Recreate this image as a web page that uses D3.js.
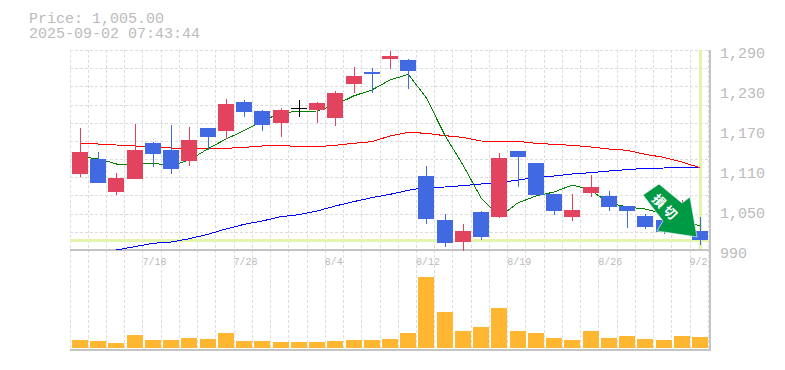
<!DOCTYPE html>
<html>
<head>
<meta charset="utf-8">
<script src="https://cdn.jsdelivr.net/npm/d3@7"></script>
<style>
    html, body { margin: 0; padding: 0; background: #fff; }
    svg { display: block; }
    text { font-family: "Liberation Mono", monospace; fill: #bbb; }
</style>
</head>
<body>
<div id="chart"></div>
<script>
const dates = ["7/14","7/15","7/16","7/17","7/18","7/22","7/23","7/24","7/25","7/28","7/29","7/30","7/31","8/1","8/4","8/5","8/6","8/7","8/8","8/12","8/13","8/14","8/15","8/18","8/19","8/20","8/21","8/22","8/25","8/26","8/27","8/28","8/29","9/1","9/2"];
const dateLabels = ["7/18","7/28","8/4","8/12","8/19","8/26","9/2"];
const priceTicks = [990,1050,1110,1170,1230,1290];

const opens  = [1104,1126.5,1077,1096.5,1150.5,1140,1123.5,1173,1168.5,1212,1198.5,1180.5,1203,1200,1188,1239,1257,1276.5,1275,1101,1035,1002,1047,1039.5,1138.5,1120.5,1074,1039.5,1075.5,1071,1056,1041,1035,1032,1018.5];
const closes = [1137,1090.5,1098,1140,1134,1111.5,1155,1159.5,1209,1197,1177.5,1200,1203,1210.5,1225.5,1251,1254,1281,1258.5,1036.5,1000.5,1018.5,1009.5,1128,1129.5,1072.5,1048.5,1050,1084.5,1054.5,1048.5,1024.5,1017,1047,1005];
const highs  = [1173,1137,1105.5,1179,1152,1177.5,1174.5,1173,1216.5,1215,1200,1203,1215,1212,1228.5,1264.5,1263,1288.5,1276.5,1116,1044,1029,1048.5,1135.5,1138.5,1120.5,1074,1074,1102.5,1078.5,1056,1044,1050,1065,1039.5];
const lows   = [1099.5,1090.5,1072.5,1096.5,1114.5,1104,1116,1140,1156.5,1189.5,1168.5,1159.5,1189.5,1180.5,1176,1225.5,1225.5,1261.5,1231.5,1029,994.5,988.5,1005,1038,1084.5,1072.5,1042.5,1033.5,1069.5,1048.5,1023,1021.5,1014,1026,997.5];

const ma5  = [1129.5,1127,1119,1119,1120.5,1116,1125,1141.5,1156.5,1169,1183.5,1195.5,1198,1198.5,1207.5,1221,1230,1245,1253.5,1218,1162.5,1117.5,1068,1039.5,1060.5,1071,1077,1087.5,1080,1060.5,1054.5,1051.5,1044,1035,1026];
const ma25 = [1150,1149,1147.5,1146,1145,1143,1142,1142,1142.5,1144,1146,1147,1145,1145,1147,1150,1152.5,1161,1166.5,1165,1161.5,1159,1153.5,1153,1153,1150,1148.5,1147,1144.5,1141.5,1139.5,1133.5,1129,1122,1113.5];
const ma75 = [null,null,990,995,1000,1002,1007,1013.5,1021.5,1028.5,1033.5,1040,1043,1048.5,1056,1062.5,1068.5,1073.5,1079.5,1084,1084.5,1086.5,1089,1091,1095,1098.5,1101,1104,1106,1108.5,1110.5,1112.5,1113,1114,1114];

const volumes = [800,700,500,1300,800,800,1000,900,1500,700,700,600,600,600,700,800,800,900,1500,7100,3600,1700,2100,4000,1700,1500,1000,800,1700,1000,1200,900,800,1200,1100];

const lastPrice = 1005;
const titleLines = ["Price: 1,005.00", "2025-09-02 07:43:44"];

const svg = d3.select("#chart").append("svg").attr("width", 785).attr("height", 370);

// Scales
const x = d3.scalePoint().domain(d3.range(dates.length)).range([80, 700]);
const y = d3.scaleLinear().domain([990, 1290]).range([250, 50]);
const yVol = d3.scaleLinear().domain([0, 7100]).range([348, 277]);
const px = v => Math.round(v);

// Grid
const grid = svg.append("g")
    .attr("stroke", "#ddd")
    .attr("stroke-dasharray", "3,2")
    .attr("shape-rendering", "crispEdges");
grid.selectAll(".h")
    .data(d3.range(11))
    .join("line")
    .attr("class", "h")
    .attr("x1", 70).attr("x2", 710)
    .attr("y1", d => px(y(1290 - d * 300 / 11)) + 0.5)
    .attr("y2", d => px(y(1290 - d * 300 / 11)) + 0.5);
grid.selectAll(".v")
    .data(d3.range(dates.length + 1))
    .join("line")
    .attr("class", "v")
    .attr("y1", 50).attr("y2", 350)
    .attr("x1", d => Math.floor(x(0) + d * x.step() - 10) + 0.5)
    .attr("x2", d => Math.floor(x(0) + d * x.step() - 10) + 0.5);

// Panel borders
const border = svg.append("g")
    .attr("stroke", "#c4c4c4")
    .attr("stroke-width", 2)
    .attr("shape-rendering", "crispEdges");
border.append("line").attr("x1", 70).attr("x2", 711).attr("y1", 250).attr("y2", 250);
border.append("line").attr("x1", 70).attr("x2", 711).attr("y1", 350).attr("y2", 350);
border.append("line").attr("x1", 710).attr("x2", 710).attr("y1", 50).attr("y2", 351);

// Current price lines
svg.append("line")
    .attr("x1", 70).attr("x2", 709)
    .attr("y1", y(lastPrice) + 0.5).attr("y2", y(lastPrice) + 0.5)
    .attr("stroke", "#e3f5ac").attr("stroke-width", 3)
    .attr("shape-rendering", "crispEdges");
svg.append("line")
    .attr("x1", px(x(dates.length - 1)) + 0.5).attr("x2", px(x(dates.length - 1)) + 0.5)
    .attr("y1", 50).attr("y2", 249)
    .attr("stroke", "#e3f5ac").attr("stroke-width", 3)
    .attr("shape-rendering", "crispEdges");

// Moving averages
const line = d3.line()
    .defined(d => d !== null)
    .x((d, i) => x(i))
    .y(d => y(d));
[[ma75, "#0000ff"], [ma25, "#ff0000"], [ma5, "#008000"]].forEach(([series, color]) => {
    svg.append("path")
        .attr("d", line(series))
        .attr("fill", "none")
        .attr("stroke", color)
        .attr("stroke-width", 1)
        .attr("shape-rendering", "crispEdges");
});

// Candles
const candleColor = i => closes[i] > opens[i] ? "#e2435f" : closes[i] < opens[i] ? "#4169e1" : "#000";
const candles = svg.append("g")
    .selectAll("g")
    .data(dates)
    .join("g")
    .attr("shape-rendering", "crispEdges");
candles.append("line")
    .attr("x1", (d, i) => px(x(i)) + 0.5)
    .attr("x2", (d, i) => px(x(i)) + 0.5)
    .attr("y1", (d, i) => px(y(highs[i])))
    .attr("y2", (d, i) => px(y(lows[i])))
    .attr("stroke", (d, i) => candleColor(i));
candles.append("rect")
    .attr("x", (d, i) => px(x(i)) - 8)
    .attr("width", 16)
    .attr("y", (d, i) => px(y(Math.max(opens[i], closes[i]))))
    .attr("height", (d, i) => Math.max(1, px(y(Math.min(opens[i], closes[i]))) - px(y(Math.max(opens[i], closes[i])))))
    .attr("fill", (d, i) => candleColor(i));

// Volume
svg.append("g")
    .selectAll("rect")
    .data(volumes)
    .join("rect")
    .attr("x", (d, i) => px(x(i)) - 8)
    .attr("width", 16)
    .attr("y", d => px(yVol(d)))
    .attr("height", d => px(yVol(0)) - px(yVol(d)))
    .attr("fill", "#ffb732")
    .attr("shape-rendering", "crispEdges");

// Axes
const yAxis = svg.append("g")
    .attr("transform", "translate(710,0)")
    .call(d3.axisRight(y).tickValues(priceTicks).tickFormat(d3.format(",")).tickSize(0).tickPadding(10));
yAxis.select(".domain").remove();
yAxis.selectAll("text")
    .attr("font-size", 15)
    .attr("dy", "0.5em");

const xAxis = svg.append("g")
    .attr("transform", "translate(0,250)")
    .call(d3.axisBottom(d3.scaleOrdinal().domain(dateLabels).range(dateLabels.map(d => x(dates.indexOf(d)))))
        .tickSize(0).tickPadding(8));
xAxis.select(".domain").remove();
xAxis.selectAll("text")
    .attr("font-size", 10)
    .attr("text-anchor", "start")
    .attr("dx", -11);
xAxis.attr("font-family", null);
yAxis.attr("font-family", null);

// Title
svg.append("g")
    .selectAll("text")
    .data(titleLines)
    .join("text")
    .attr("x", 29)
    .attr("y", (d, i) => 23 + i * 15)
    .attr("font-size", 15)
    .text(d => d);

// Signal arrow, placed from the last candle
const tipX = x(dates.length - 1) - 4;
const tipY = y(lastPrice) - 4;
const arrowShape = [[-37,-52],[-53,-41],[-33,-15],[-39,-5],[1,1],[-6,-39],[-14,-33]];
const arrow = svg.append("g").attr("transform", `translate(${tipX},${tipY})`);
arrow.append("path")
    .attr("d", d3.line()(arrowShape) + "Z")
    .attr("fill", "#009944")
    .attr("stroke", "#fff")
    .attr("stroke-width", 0.6);
arrow.append("text")
    .attr("transform", "translate(-30,-28.5) rotate(45)")
    .attr("text-anchor", "middle")
    .attr("dy", "0.4em")
    .attr("letter-spacing", 3)
    .style("font-family", '"Noto Sans CJK JP"')
    .style("font-size", "13px")
    .style("font-weight", "bold")
    .style("fill", "#fff")
    .text("損切");
</script>
</body>
</html>
